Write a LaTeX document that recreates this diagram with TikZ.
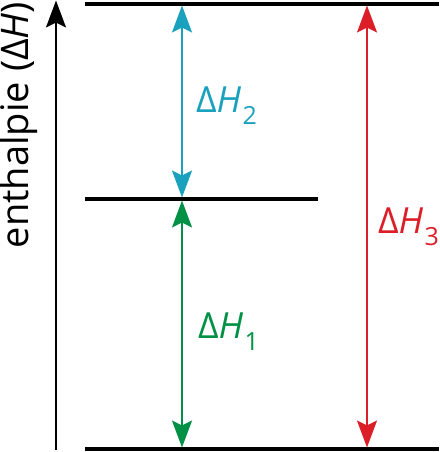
\documentclass[tikz,border=0pt]{standalone}
\usepackage{fontspec}
\setmainfont{Open Sans}
\usetikzlibrary{arrows.meta}

\definecolor{dhcyan}{RGB}{26,161,190}
\definecolor{dhgreen}{RGB}{0,145,70}
\definecolor{dhred}{RGB}{220,30,40}

\newcommand{\dH}[1]{Δ\textit{H}\kern1.5pt\raisebox{-12pt}{\fontsize{25}{25}\selectfont #1}}

\begin{document}
\begin{tikzpicture}[x=1pt, y=-1pt]
\tikzset{ >={Stealth[length=27pt,width=20pt,inset=5pt]}, inner sep=0pt, outer sep=0pt,
  level/.style={line width=3.5pt},
  dh/.style={line width=2.2pt, <->},
  lbl/.style={anchor=base west, font=\fontsize{36}{36}\selectfont}
}
\useasboundingbox (0,0) rectangle (439,452);

%\draw [lightgray, dashed](0,0) grid[step=50] (439,452);

\coordinate (A0) at (56,450);
\coordinate (A1) at (56,0.5);

\coordinate (TL) at (85,4);
\coordinate (TR) at (439,4);
\coordinate (ML) at (85,199);
\coordinate (MR) at (318,199);
\coordinate (BL) at (85,449);
\coordinate (BR) at (439,449);

\coordinate (c1) at (182,5.5);
\coordinate (c2) at (182,197.5);
\coordinate (g1) at (182,200.5);
\coordinate (g2) at (182,447.5);
\coordinate (r1) at (367,5.5);
\coordinate (r2) at (367,447.5);

\draw [level] (TL) -- (TR);
\draw [level] (ML) -- (MR);
\draw [level] (BL) -- (BR);

\draw [->, line width=2pt] (A0) -- (A1);
\node [rotate=90, anchor=base, font=\fontsize{38}{38}\selectfont] (axis) at (28,125) {enthalpie (Δ\textit{H})};

\draw [dh, dhcyan]  (c1) -- (c2);
\draw [dh, dhgreen] (g1) -- (g2);
\draw [dh, dhred]   (r1) -- (r2);

\node [lbl, dhcyan]  (dH2) at (196,112) {\dH{2}};
\node [lbl, dhgreen] (dH1) at (198,338) {\dH{1}};
\node [lbl, dhred]   (dH3) at (378,233) {\dH{3}};

\end{tikzpicture}
\end{document}
